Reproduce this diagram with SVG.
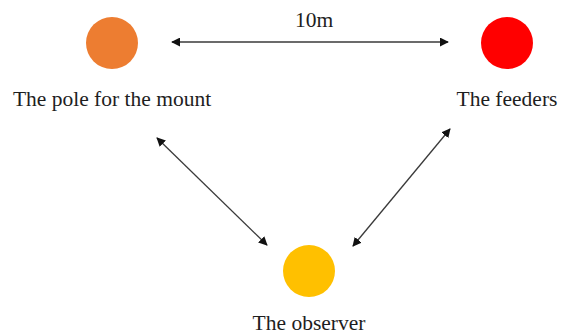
<svg xmlns="http://www.w3.org/2000/svg" width="567" height="336" viewBox="0 0 567 336">
<style>
.lbl{font-family:"Liberation Serif","Times New Roman",serif;font-size:21.5px;fill:#1e1e1e;text-anchor:middle}
.conn{stroke:#3a3a3a;stroke-width:1.3;fill:none;marker-start:url(#ah);marker-end:url(#ah)}
</style>
<defs>
<marker id="ah" viewBox="0 0 10 10" refX="9" refY="5" markerWidth="9" markerHeight="9" markerUnits="userSpaceOnUse" orient="auto-start-reverse">
<path d="M0,0 L10,5 L0,10 Z" fill="#111"/>
</marker>
</defs>
<rect width="567" height="336" fill="#fff"/>
<g id="connectors">
<line class="conn" x1="172" y1="42" x2="448" y2="42"/>
<line class="conn" x1="157" y1="138" x2="267" y2="245"/>
<line class="conn" x1="450" y1="129" x2="353" y2="246"/>
<text class="lbl" x="314" y="27">10m</text>
</g>
<g id="pole">
<circle cx="112" cy="43" r="26" fill="#ED7D31"/>
<text class="lbl" x="112" y="106">The pole for the mount</text>
</g>
<g id="feeders">
<circle cx="507" cy="43" r="26" fill="#FF0000"/>
<text class="lbl" x="507" y="106">The feeders</text>
</g>
<g id="observer">
<circle cx="309" cy="271" r="26" fill="#FFC000"/>
<text class="lbl" x="309" y="330">The observer</text>
</g>
</svg>
